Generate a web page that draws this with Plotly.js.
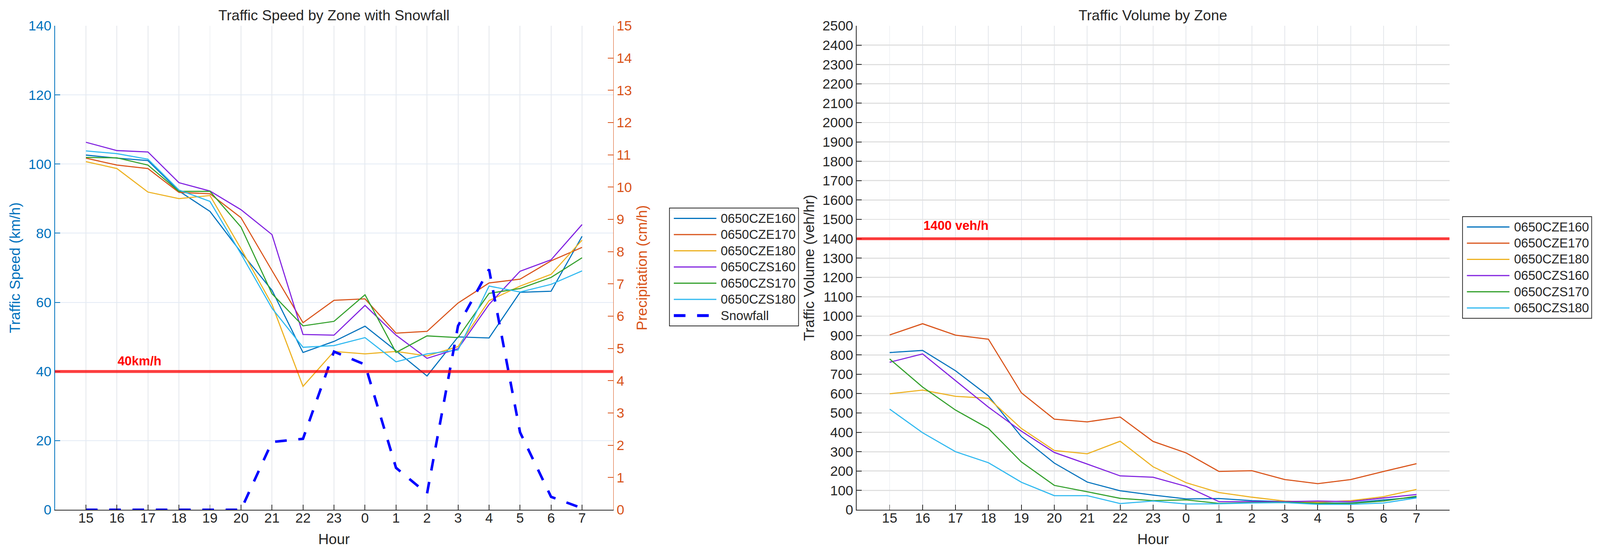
<!DOCTYPE html>
<html>
<head>
<meta charset="utf-8">
<script src="https://cdn.plot.ly/plotly-3.0.1.min.js"></script>
<style>
  html, body { margin: 0; padding: 0; background: #ffffff; overflow: hidden; }
</style>
</head>
<body>
<div id="chart"></div>
<script>
// ---------- data ----------
const hours = ['15','16','17','18','19','20','21','22','23','0','1','2','3','4','5','6','7'];
const zones = ['0650CZE160','0650CZE170','0650CZE180','0650CZS160','0650CZS170','0650CZS180'];

const speedCZE160 = [102.6,101.7,101.0,92.2,86.3,74.5,63.5,45.5,48.7,53.1,46.0,38.7,50.0,49.7,62.9,63.2,79.1];
const speedCZE170 = [101.7,99.7,98.7,91.8,91.4,84.5,69.2,54.1,60.6,61.0,51.1,51.6,59.8,65.6,66.7,72.0,75.9];
const speedCZE180 = [100.7,98.7,91.9,90.0,90.9,75.5,59.4,35.7,45.8,45.1,45.8,44.5,47.2,60.5,64.7,68.1,78.0];
const speedCZS160 = [106.3,103.9,103.5,94.6,92.2,86.8,79.6,50.7,50.5,59.1,50.5,43.8,46.6,59.4,69.0,72.3,82.5];
const speedCZS170 = [101.9,101.8,99.7,92.1,92.1,81.8,62.5,53.2,54.5,62.2,45.5,50.3,49.8,62.6,64.0,67.2,72.9];
const speedCZS180 = [103.8,103.0,101.4,92.5,89.2,74.0,58.3,47.0,47.5,49.8,42.8,45.1,46.2,64.7,63.0,65.2,69.1];

const snowfall = [0,0,0,0,0,0,2.1,2.2,4.9,4.5,1.3,0.5,5.7,7.45,2.4,0.4,0.05];

const volumeCZE160 = [812,823,718,588,378,241,143,98,76,56,58,47,42,35,35,51,65];
const volumeCZE170 = [903,961,902,881,604,468,454,479,353,294,198,202,156,135,156,198,238];
const volumeCZE180 = [599,618,586,576,420,306,289,354,222,140,89,65,45,39,47,68,105];
const volumeCZS160 = [762,805,667,530,406,296,236,175,168,121,42,42,42,45,42,61,79];
const volumeCZS170 = [779,634,515,420,247,126,93,59,47,51,33,37,39,33,33,45,70];
const volumeCZS180 = [520,398,300,243,142,73,73,32,45,30,31,35,37,28,28,35,61];

const speedThreshold = 40;
const volumeThreshold = 1400;
const speedThresholdLabel = '40km/h';
const volumeThresholdLabel = '1400 veh/h';

// ---------- sizing (layout designed on a 4400x1427 canvas, scaled to the real viewport) ----------
const REF_W = 4400, REF_H = 1427;
const W = window.innerWidth || document.documentElement.clientWidth || REF_W;
const H = window.innerHeight || document.documentElement.clientHeight || REF_H;
const kx = W / REF_W, ky = H / REF_H, k = Math.min(kx, ky);
const s = v => v * k;
const chartDiv = document.getElementById('chart');
chartDiv.style.width = W + 'px';
chartDiv.style.height = H + 'px';

// ---------- styles ----------
const zoneColors = ['#0072BD','#D95319','#EDB120','#8020E0','#33A02C','#2DB8F0'];
const FONT = 'Liberation Sans, Arial, Helvetica, sans-serif';
const DARK = '#262626';

const speedSeries = [speedCZE160, speedCZE170, speedCZE180, speedCZS160, speedCZS170, speedCZS180];
const volumeSeries = [volumeCZE160, volumeCZE170, volumeCZE180, volumeCZS160, volumeCZS170, volumeCZS180];

const speedTraces = speedSeries.map((vals, i) => ({
  type: 'scatter', mode: 'lines', x: hours, y: vals, name: zones[i],
  xaxis: 'x', yaxis: 'y', showlegend: false,
  line: { color: zoneColors[i], width: s(3) }
}));
const snowTrace = {
  type: 'scatter', mode: 'lines', x: hours, y: snowfall, name: 'Snowfall',
  xaxis: 'x', yaxis: 'y2', showlegend: false,
  line: { color: '#0000FF', width: s(7), dash: s(32).toFixed(1) + 'px,' + s(32).toFixed(1) + 'px' }
};
const volumeTraces = volumeSeries.map((vals, i) => ({
  type: 'scatter', mode: 'lines', x: hours, y: vals, name: zones[i],
  xaxis: 'x2', yaxis: 'y3', showlegend: false,
  line: { color: zoneColors[i], width: s(3) }
}));
const traces = speedTraces.concat([snowTrace], volumeTraces);

const yDom = [1 - 1306/REF_H, 1 - 66/REF_H];

function xAxis(domain, anchor) {
  return {
    domain: domain, anchor: anchor, type: 'category', range: [-1, 17],
    showline: true, linecolor: DARK, linewidth: s(2), mirror: false,
    ticks: 'inside', ticklen: s(14), tickwidth: s(2), tickcolor: DARK,
    showgrid: true, gridcolor: '#e4e7ec', gridwidth: s(2), zeroline: false,
    tickfont: { family: FONT, size: s(38), color: DARK }, ticklabelstandoff: Math.round(s(-12)),
    title: { text: 'Hour', font: { family: FONT, size: s(40), color: DARK }, standoff: s(24) }
  };
}

const shapes = [
  { type: 'line', xref: 'x domain', x0: 0, x1: 1, yref: 'y', y0: speedThreshold, y1: speedThreshold,
    line: { color: 'rgba(255,0,0,0.75)', width: s(8) }, layer: 'above' },
  { type: 'line', xref: 'x2 domain', x0: 0, x1: 1, yref: 'y3', y0: volumeThreshold, y1: volumeThreshold,
    line: { color: 'rgba(255,0,0,0.75)', width: s(8) }, layer: 'above' }
];

const annotations = [
  { text: 'Traffic Speed by Zone with Snowfall', xref: 'paper', yref: 'paper',
    x: 918/REF_W, y: 1 - 39/REF_H, xanchor: 'center', yanchor: 'middle', showarrow: false,
    font: { family: FONT, size: s(40), color: DARK } },
  { text: 'Traffic Volume by Zone', xref: 'paper', yref: 'paper',
    x: 3171/REF_W, y: 1 - 39/REF_H, xanchor: 'center', yanchor: 'middle', showarrow: false,
    font: { family: FONT, size: s(40), color: DARK } },
  { text: '<b>' + speedThresholdLabel + '</b>', xref: 'x', yref: 'y', x: 1, y: speedThreshold,
    xanchor: 'left', yanchor: 'middle', yshift: 27 * ky, showarrow: false,
    font: { family: FONT, size: s(35), color: '#FF0000' } },
  { text: '<b>' + volumeThresholdLabel + '</b>', xref: 'x2', yref: 'y3', x: 1, y: volumeThreshold,
    xanchor: 'left', yanchor: 'middle', yshift: 34 * ky, showarrow: false,
    font: { family: FONT, size: s(35), color: '#FF0000' } }
];

// legend boxes built from the traces' own names and line styles (reference-pixel layout -> paper coords)
function addLegend(left, top, boxW, entries) {
  const rowStep = 41.5, firstRow = 26.5, padBottom = 26.5;
  const boxH = firstRow + rowStep * (entries.length - 1) + padBottom;
  shapes.push({ type: 'rect', xref: 'paper', yref: 'paper',
    x0: left / REF_W, x1: (left + boxW) / REF_W, y0: 1 - top / REF_H, y1: 1 - (top + boxH) / REF_H,
    line: { color: DARK, width: s(2) }, fillcolor: '#ffffff', layer: 'above' });
  entries.forEach((tr, i) => {
    const cy = top + firstRow + rowStep * i;
    shapes.push({ type: 'line', xref: 'paper', yref: 'paper',
      x0: (left + 12) / REF_W, x1: (left + 129) / REF_W, y0: 1 - cy / REF_H, y1: 1 - cy / REF_H,
      line: { color: tr.line.color, width: tr.line.dash ? s(8) : s(3), dash: tr.line.dash || 'solid' },
      layer: 'above' });
    annotations.push({ text: tr.name, xref: 'paper', yref: 'paper',
      x: (left + 139) / REF_W, y: 1 - cy / REF_H, xanchor: 'left', yanchor: 'middle', showarrow: false,
      font: { family: FONT, size: s(35), color: DARK } });
  });
}
addLegend(1841, 533, 355, speedTraces.concat([snowTrace]));
addLegend(4022, 555, 355, volumeTraces);

const layout = {
  width: W, height: H,
  margin: { l: 0, r: 0, t: 0, b: 0 },
  paper_bgcolor: '#ffffff', plot_bgcolor: '#ffffff',
  font: { family: FONT, color: DARK },
  showlegend: false,
  xaxis: xAxis([151/REF_W, 1686/REF_W], 'y'),
  xaxis2: xAxis([2356/REF_W, 3986/REF_W], 'y3'),
  yaxis: {
    domain: yDom, anchor: 'x', side: 'left', range: [0, 140], dtick: 20,
    showline: true, linecolor: '#0072BD', linewidth: s(2),
    ticks: 'inside', ticklen: s(14), tickwidth: s(2), tickcolor: '#0072BD',
    showgrid: true, gridcolor: '#e3ebf5', gridwidth: s(2), zeroline: false,
    tickfont: { family: FONT, size: s(38), color: '#0072BD' },
    title: { text: 'Traffic Speed (km/h)', font: { family: FONT, size: s(40), color: '#0072BD' }, standoff: s(10) }
  },
  yaxis2: {
    overlaying: 'y', anchor: 'x', side: 'right', range: [0, 15], dtick: 1,
    showline: true, linecolor: '#D95319', linewidth: s(2),
    ticks: 'inside', ticklen: s(14), tickwidth: s(2), tickcolor: '#D95319',
    showgrid: false, zeroline: false,
    tickfont: { family: FONT, size: s(38), color: '#D95319' },
    title: { text: 'Precipitation (cm/h)', font: { family: FONT, size: s(40), color: '#D95319' }, standoff: s(14) }
  },
  yaxis3: {
    domain: yDom, anchor: 'x2', side: 'left', range: [0, 2500], dtick: 100,
    showline: true, linecolor: DARK, linewidth: s(2),
    ticks: 'inside', ticklen: s(14), tickwidth: s(2), tickcolor: DARK,
    showgrid: true, gridcolor: '#e0e0e0', gridwidth: s(3), zeroline: false,
    tickfont: { family: FONT, size: s(38), color: DARK },
    title: { text: 'Traffic Volume (veh/hr)', font: { family: FONT, size: s(40), color: DARK }, standoff: s(10) }
  },
  shapes: shapes,
  annotations: annotations
};

Plotly.newPlot('chart', traces, layout, { staticPlot: true, displayModeBar: false });
</script>
</body>
</html>
